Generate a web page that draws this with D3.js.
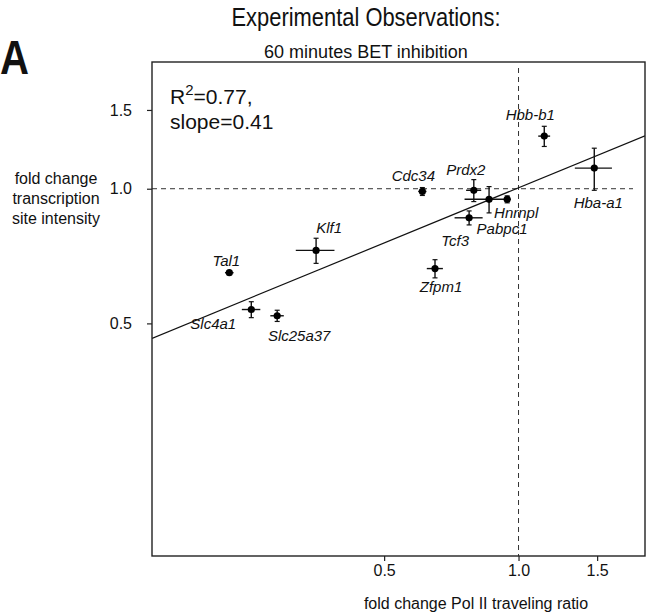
<!DOCTYPE html>
<html>
<head>
<meta charset="utf-8">
<script src="https://cdn.jsdelivr.net/npm/d3@7"></script>
<style>
  html, body { margin: 0; padding: 0; background: #fff; }
  svg { display: block; }
  text { font-family: "Liberation Sans", Arial, Helvetica, sans-serif; fill: #111; }
</style>
</head>
<body>
<svg id="chart" width="650" height="615"></svg>
<script>
// ---- data ----
const genes = ["Tal1", "Klf1", "Slc4a1", "Slc25a37", "Cdc34", "Prdx2", "Pabpc1", "Hnrnpl", "Tcf3", "Zfpm1", "Hbb-b1", "Hba-a1"];
const polIIRatio = [0.225, 0.352, 0.252, 0.288, 0.609, 0.794, 0.859, 0.943, 0.775, 0.650, 1.142, 1.478];
const polIIErr   = [0.005, 0.035, 0.012, 0.010, 0.013, 0.031, 0.102, 0.015, 0.056, 0.027, 0.035, 0.141];
const siteIntensity = [0.649, 0.728, 0.537, 0.520, 0.986, 0.992, 0.947, 0.947, 0.861, 0.663, 1.311, 1.112];
const siteErr       = [0.000, 0.047, 0.022, 0.015, 0.020, 0.056, 0.064, 0.017, 0.031, 0.031, 0.068, 0.120];
const xTickValues = [0.5, 1.0, 1.5];
const xTickLabels = ["0.5", "1.0", "1.5"];
const yTickValues = [0.5, 1.0, 1.5];
const yTickLabels = ["0.5", "1.0", "1.5"];
const fitSlope = 0.41;       // in log-log space
const fitIntercept = 0.005;  // ln units
const fitR2 = "0.77";
const fitSlopeLabel = "0.41";
const axisDomain = [0.151, 1.92];

// ---- label layout (pixel offsets from each point) ----
const labelOffsets = [
  [-3, -12], [13, -23], [-38, 14], [22, 20], [-9, -16], [-8, -21],
  [13, 29], [9, 13], [-14, 23], [6, 18], [-14, -22], [4, 34]
];

const svg = d3.select("#chart");
const L = 152, R = 645, T = 62, B = 556;

const x = d3.scaleLog().domain(axisDomain).range([L, R]);
const y = d3.scaleLog().domain(axisDomain).range([B, T]);

// titles
svg.append("text").attr("x", 0).attr("y", 74).attr("font-size", 48).attr("font-weight", "bold")
  .attr("textLength", 29).attr("lengthAdjust", "spacingAndGlyphs").text("A");
svg.append("text").attr("x", 366).attr("y", 26).attr("text-anchor", "middle").attr("font-size", 25)
  .attr("textLength", 269).attr("lengthAdjust", "spacingAndGlyphs").text("Experimental Observations:");
svg.append("text").attr("x", 366).attr("y", 58).attr("text-anchor", "middle").attr("font-size", 18)
  .text("60 minutes BET inhibition");

// clip
svg.append("clipPath").attr("id", "plotclip").append("rect")
  .attr("x", L).attr("y", T).attr("width", R - L).attr("height", B - T);

const plot = svg.append("g").attr("clip-path", "url(#plotclip)");

// reference dashed lines at 1.0
plot.append("line").attr("x1", L).attr("x2", R - 12).attr("y1", y(1)).attr("y2", y(1))
  .attr("stroke", "#333").attr("stroke-width", 1).attr("stroke-dasharray", "5,4");
plot.append("line").attr("x1", x(1)).attr("x2", x(1)).attr("y1", T + 6).attr("y2", B)
  .attr("stroke", "#333").attr("stroke-width", 1).attr("stroke-dasharray", "5,4");

// regression line
const fitY = v => Math.exp(fitSlope * Math.log(v) + fitIntercept);
plot.append("line")
  .attr("x1", x(axisDomain[0])).attr("y1", y(fitY(axisDomain[0])))
  .attr("x2", x(axisDomain[1])).attr("y2", y(fitY(axisDomain[1])))
  .attr("stroke", "#111").attr("stroke-width", 1.2);

// error bars + points
const idx = d3.range(genes.length);
const g = plot.append("g");
idx.forEach(i => {
  const px = x(polIIRatio[i]), py = y(siteIntensity[i]);
  if (polIIErr[i] > 0) {
    g.append("line").attr("x1", x(polIIRatio[i] - polIIErr[i])).attr("x2", x(polIIRatio[i] + polIIErr[i]))
      .attr("y1", py).attr("y2", py).attr("stroke", "#111").attr("stroke-width", 1.4);
  }
  if (siteErr[i] > 0) {
    const y1 = y(siteIntensity[i] - siteErr[i]), y2 = y(siteIntensity[i] + siteErr[i]);
    g.append("line").attr("x1", px).attr("x2", px).attr("y1", y1).attr("y2", y2)
      .attr("stroke", "#111").attr("stroke-width", 1.4);
    [y1, y2].forEach(yy => g.append("line").attr("x1", px - 2.5).attr("x2", px + 2.5)
      .attr("y1", yy).attr("y2", yy).attr("stroke", "#111").attr("stroke-width", 1.2));
  }
  g.append("circle").attr("cx", px).attr("cy", py).attr("r", 3.6).attr("fill", "#000");
});

// gene labels
svg.append("g").selectAll("text").data(idx).join("text")
  .attr("x", i => x(polIIRatio[i]) + labelOffsets[i][0])
  .attr("y", i => y(siteIntensity[i]) + labelOffsets[i][1] + 5.5)
  .attr("text-anchor", "middle").attr("font-size", 15).attr("font-style", "italic")
  .text(i => genes[i]);

// fit annotation
const ann = svg.append("text").attr("x", 170).attr("y", 104).attr("font-size", 21);
ann.append("tspan").text("R");
ann.append("tspan").attr("dy", -9).attr("font-size", 15).text("2");
ann.append("tspan").attr("dy", 9).text("=" + fitR2 + ",");
svg.append("text").attr("x", 170).attr("y", 129).attr("font-size", 21).text("slope=" + fitSlopeLabel);

// box
svg.append("rect").attr("x", L).attr("y", T).attr("width", R - L).attr("height", B - T)
  .attr("fill", "none").attr("stroke", "#222").attr("stroke-width", 1.4);

// axes
const xAxis = d3.axisBottom(x).tickValues(xTickValues).tickFormat((d, i) => xTickLabels[i]).tickSize(5).tickPadding(4);
const gx = svg.append("g").attr("transform", `translate(0,${B})`).call(xAxis);
gx.select(".domain").remove();
gx.selectAll("line").attr("stroke", "#222").attr("stroke-width", 1.2);
gx.selectAll("text").attr("font-size", 16).attr("fill", "#111")
  .style("font-family", '"Liberation Sans", Arial, Helvetica, sans-serif');

const yAxis = d3.axisLeft(y).tickValues(yTickValues).tickFormat((d, i) => yTickLabels[i]).tickSize(5).tickPadding(15);
const gy = svg.append("g").attr("transform", `translate(${L},0)`).call(yAxis);
gy.select(".domain").remove();
gy.selectAll("line").attr("stroke", "#222").attr("stroke-width", 1.2);
gy.selectAll("text").attr("font-size", 16).attr("fill", "#111")
  .style("font-family", '"Liberation Sans", Arial, Helvetica, sans-serif');

// axis titles
svg.append("text").attr("x", 476).attr("y", 609).attr("text-anchor", "middle").attr("font-size", 16)
  .text("fold change Pol II traveling ratio");
const yt = svg.append("text").attr("x", 56).attr("y", 184).attr("text-anchor", "middle").attr("font-size", 16);
["fold change", "transcription", "site intensity"].forEach((s, i) =>
  yt.append("tspan").attr("x", 56).attr("dy", i === 0 ? 0 : 20).text(s));
</script>
</body>
</html>
